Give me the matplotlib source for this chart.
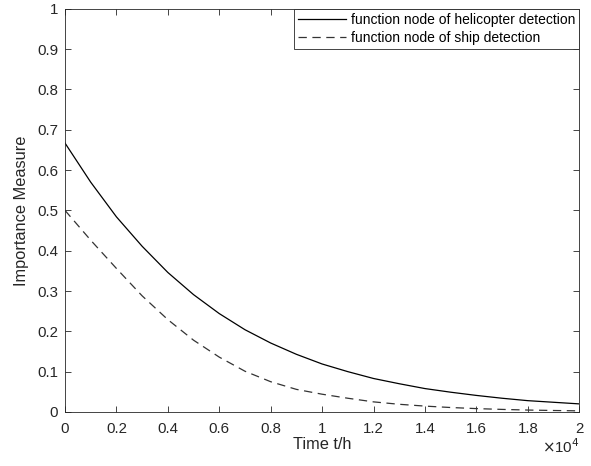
import matplotlib
matplotlib.use("Agg")
from matplotlib import pyplot as plt
import numpy as np

plt.rcParams['font.family'] = ['Liberation Sans', 'DejaVu Sans']
plt.rcParams['lines.scale_dashes'] = False

# time in hours (read at 1000 h steps)
t = np.arange(0, 21000, 1000)
heli = [0.667, 0.570, 0.484, 0.411, 0.346, 0.291, 0.244, 0.204, 0.171, 0.143,
        0.119, 0.100, 0.083, 0.070, 0.058, 0.049, 0.041, 0.034, 0.028, 0.024, 0.020]
ship = [0.500, 0.426, 0.356, 0.288, 0.229, 0.178, 0.136, 0.101, 0.075, 0.056,
        0.044, 0.034, 0.025, 0.019, 0.0145, 0.011, 0.0083, 0.0063, 0.0047, 0.0036, 0.0027]

xticks = np.arange(0, 20001, 2000)
xtick_labels = ["0", "0.2", "0.4", "0.6", "0.8", "1", "1.2", "1.4", "1.6", "1.8", "2"]
yticks = np.arange(0, 1.01, 0.1)
ytick_labels = ["0", "0.1", "0.2", "0.3", "0.4", "0.5", "0.6", "0.7", "0.8", "0.9", "1"]

dark = "#262626"
fig = plt.figure(figsize=(5.91, 4.66), dpi=100)
ax = fig.add_axes([0.110, 0.116, 0.870, 0.865])

ax.plot(t, heli, color="black", lw=0.9, label="function node of helicopter detection")
ax.plot(t, ship, color="#333333", lw=0.9, dashes=(6, 4),
        label="function node of ship detection")

ax.set_xlim(0, 20000)
ax.set_ylim(0, 1)
ax.set_xticks(xticks)
ax.set_xticklabels(xtick_labels)
ax.set_yticks(yticks)
ax.set_yticklabels(ytick_labels)
ax.tick_params(direction="in", top=True, right=True, length=4, width=0.6,
               colors=dark, labelsize=10.8)
ax.tick_params(axis="x", pad=7)
ax.tick_params(axis="y", pad=5)
for s in ax.spines.values():
    s.set_color(dark)
    s.set_linewidth(0.6)

ax.set_xlabel("Time t/h", fontsize=11.8, color=dark, labelpad=1)
ax.set_ylabel("Importance Measure", fontsize=11.8, color=dark, labelpad=6)
ax.text(1.0, -0.064, r"$\times$10$^{4}$", transform=ax.transAxes,
        ha="right", va="top", fontsize=10.8, color=dark)

leg = ax.legend(loc="upper right", borderaxespad=0, fancybox=False,
                edgecolor=dark, framealpha=1, fontsize=10, handlelength=3.5,
                handletextpad=0.3, borderpad=0.3, labelspacing=0.3)
leg.get_frame().set_linewidth(0.6)

fig.savefig("out.png", dpi=100)
